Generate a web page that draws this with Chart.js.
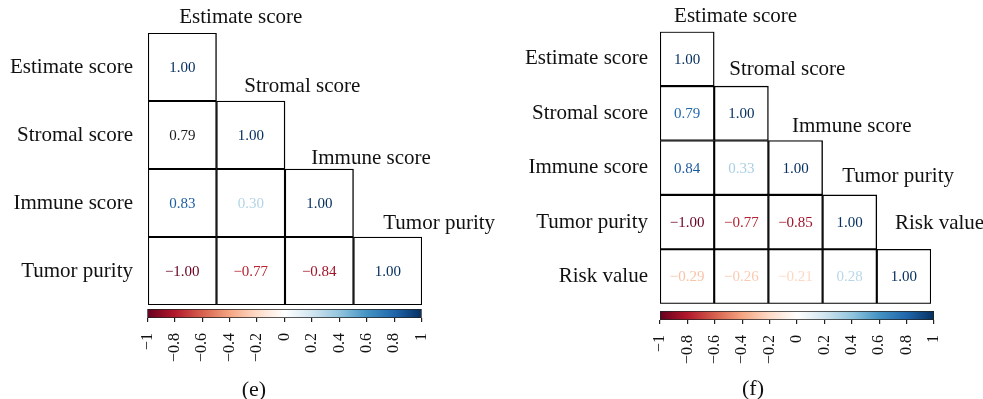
<!DOCTYPE html>
<html>
<head>
<meta charset="utf-8">
<script src="https://cdn.jsdelivr.net/npm/chart.js@4/dist/chart.umd.min.js"></script>
<style>
  html, body { margin: 0; padding: 0; background: #fff; }
  #wrap { position: relative; width: 983px; height: 399px; background: #fff; overflow: hidden; }
  canvas { position: absolute; }
  .panel-tag { position: absolute; width: 80px; text-align: center; font-family: "Liberation Serif", serif; font-size: 22px; line-height: 22px; color: #111; }
</style>
</head>
<body>
<div id="wrap">
  <canvas id="matE" width="500" height="310" style="left:0;top:0;width:500px;height:310px"></canvas>
  <canvas id="barE" width="370" height="70" style="left:100px;top:300px;width:370px;height:70px"></canvas>
  <canvas id="matF" width="483" height="310" style="left:500px;top:0;width:483px;height:310px"></canvas>
  <canvas id="barF" width="370" height="70" style="left:610px;top:300px;width:370px;height:70px"></canvas>
  <div class="panel-tag" style="left:214px;top:378px">(e)</div>
  <div class="panel-tag" style="left:713px;top:377px">(f)</div>
</div>
<script>
// ---------------- DATA ----------------
const varsE = ['Estimate score', 'Stromal score', 'Immune score', 'Tumor purity'];
const corrE = [
  [1.00],
  [0.79, 1.00],
  [0.83, 0.30, 1.00],
  [-1.00, -0.77, -0.84, 1.00]
];
const varsF = ['Estimate score', 'Stromal score', 'Immune score', 'Tumor purity', 'Risk value'];
const corrF = [
  [1.00],
  [0.79, 1.00],
  [0.84, 0.33, 1.00],
  [-1.00, -0.77, -0.85, 1.00],
  [-0.29, -0.26, -0.21, 0.28, 1.00]
];
const colorbarTicks = [-1, -0.8, -0.6, -0.4, -0.2, 0, 0.2, 0.4, 0.6, 0.8, 1];

// ---------------- STYLE ----------------
const palette = ['#67001F', '#B2182B', '#D6604D', '#F4A582', '#FDDBC7', '#FFFFFF',
                 '#D1E5F0', '#92C5DE', '#4393C3', '#2166AC', '#053061'];
const FONT = '"Liberation Serif", "Times New Roman", serif';
Chart.defaults.font.family = FONT;
Chart.defaults.color = '#111';

function hexToRgb(h) { return [1, 3, 5].map(i => parseInt(h.slice(i, i + 2), 16)); }
function valueColor(v) {
  const p = (v + 1) / 2 * (palette.length - 1);
  const i = Math.max(0, Math.min(palette.length - 2, Math.floor(p)));
  const t = p - i;
  const a = hexToRgb(palette[i]), b = hexToRgb(palette[i + 1]);
  const c = a.map((x, k) => Math.round(x + (b[k] - x) * t));
  return `rgb(${c[0]},${c[1]},${c[2]})`;
}
function fmtCell(v) { return (v < 0 ? '\u2212' : '') + Math.abs(v).toFixed(2); }
function fmtTick(v) { const r = Math.round(v * 10) / 10; return (r < 0 ? '\u2212' : '') + String(Math.abs(r)); }

// layout offsets for the diagonal (column) labels: dx from column centre, dy above cell top
const layoutE = { pad: { left: 148, right: 78, top: 33, bottom: 5 }, rowGap: 15,
  colDx: [-3, -6.5, -8, -4.5], colDy: [16, 15, 11, 14], textOverride: { '1,0': '#1a1a1a' } };
const layoutF = { pad: { left: 160, right: 52, top: 31.7, bottom: 6.3 }, rowGap: 12,
  colDx: [-13, -12, -3.5, -7.5, -9], colDy: [15, 17, 14, 18, 26], textOverride: {} };

const matrixLabels = {
  id: 'matrixLabels',
  afterDatasetsDraw(chart, args, opts) {
    const { ctx, chartArea, scales } = chart;
    const xs = scales.x, ys = scales.y;
    const vars = opts.vars, corr = opts.corr, lay = opts.layout;
    ctx.save();
    // cell values
    ctx.font = '15px ' + FONT;
    ctx.textAlign = 'center';
    ctx.textBaseline = 'middle';
    chart.data.datasets.forEach((ds, i) => {
      const meta = chart.getDatasetMeta(i);
      meta.data.forEach((el, j) => {
        if (ds.data[j] == null) return;
        const v = corr[i][j];
        ctx.fillStyle = lay.textOverride[i + ',' + j] || valueColor(v);
        ctx.fillText(fmtCell(v), el.x, (el.y + el.base) / 2 + 1);
      });
    });
    // row labels
    ctx.font = '21px ' + FONT;
    ctx.fillStyle = '#111';
    ctx.textAlign = 'right';
    vars.forEach((name, i) => {
      ctx.fillText(name, chartArea.left - lay.rowGap, ys.getPixelForValue(i + 0.5));
    });
    // diagonal column labels
    ctx.textAlign = 'left';
    vars.forEach((name, j) => {
      ctx.fillText(name, xs.getPixelForValue(j) + lay.colDx[j], ys.getPixelForValue(j) - lay.colDy[j]);
    });
    ctx.restore();
  }
};

function makeMatrix(id, vars, corr, layout) {
  const n = vars.length;
  const datasets = corr.map((row, i) => ({
    data: vars.map((_, j) => (j <= i ? [i, i + 1] : null)),
    backgroundColor: '#ffffff',
    borderColor: '#000000',
    borderWidth: 1.4,
    borderSkipped: false,
    grouped: false,
    barPercentage: 1,
    categoryPercentage: 1
  }));
  return new Chart(document.getElementById(id), {
    type: 'bar',
    data: { labels: vars, datasets },
    options: {
      responsive: false, animation: false, events: [],
      layout: { padding: layout.pad },
      plugins: { legend: { display: false }, tooltip: { enabled: false },
                 matrixLabels: { vars, corr, layout } },
      scales: {
        x: { display: false },
        y: { display: false, min: 0, max: n, reverse: true }
      }
    },
    plugins: [matrixLabels]
  });
}

function makeColorbar(id, pad, axisH) {
  return new Chart(document.getElementById(id), {
    type: 'bar',
    data: { labels: ['scale'], datasets: [{
      data: [[-1, 1]],
      backgroundColor: (c) => {
        const area = c.chart.chartArea;
        if (!area) return '#fff';
        const g = c.chart.ctx.createLinearGradient(area.left, 0, area.right, 0);
        palette.forEach((col, k) => g.addColorStop(k / (palette.length - 1), col));
        return g;
      },
      borderColor: '#222',
      borderWidth: 1.2,
      borderSkipped: false,
      barPercentage: 1,
      categoryPercentage: 1
    }] },
    options: {
      indexAxis: 'y',
      responsive: false, animation: false, events: [],
      layout: { padding: pad },
      plugins: { legend: { display: false }, tooltip: { enabled: false } },
      scales: {
        x: {
          type: 'linear', min: -1, max: 1, position: 'bottom',
          afterBuildTicks: (s) => { s.ticks = colorbarTicks.map(v => ({ value: v })); },
          afterFit: (s) => { s.height = axisH; },
          ticks: { autoSkip: false, minRotation: 90, maxRotation: 90, padding: 11,
                   font: { size: 16, family: FONT }, color: '#111', callback: (v) => fmtTick(v) },
          grid: { drawOnChartArea: false, drawTicks: true, tickLength: 4, tickColor: '#222', lineWidth: 1.2 },
          border: { display: false }
        },
        y: { display: false }
      }
    }
  });
}

makeMatrix('matE', varsE, corrE, layoutE);
makeMatrix('matF', varsF, corrF, layoutF);
makeColorbar('barE', { left: 47.3, right: 48.3, top: 9, bottom: 0 }, 52);
makeColorbar('barF', { left: 50, right: 46, top: 11, bottom: 0 }, 50);
</script>
</body>
</html>
